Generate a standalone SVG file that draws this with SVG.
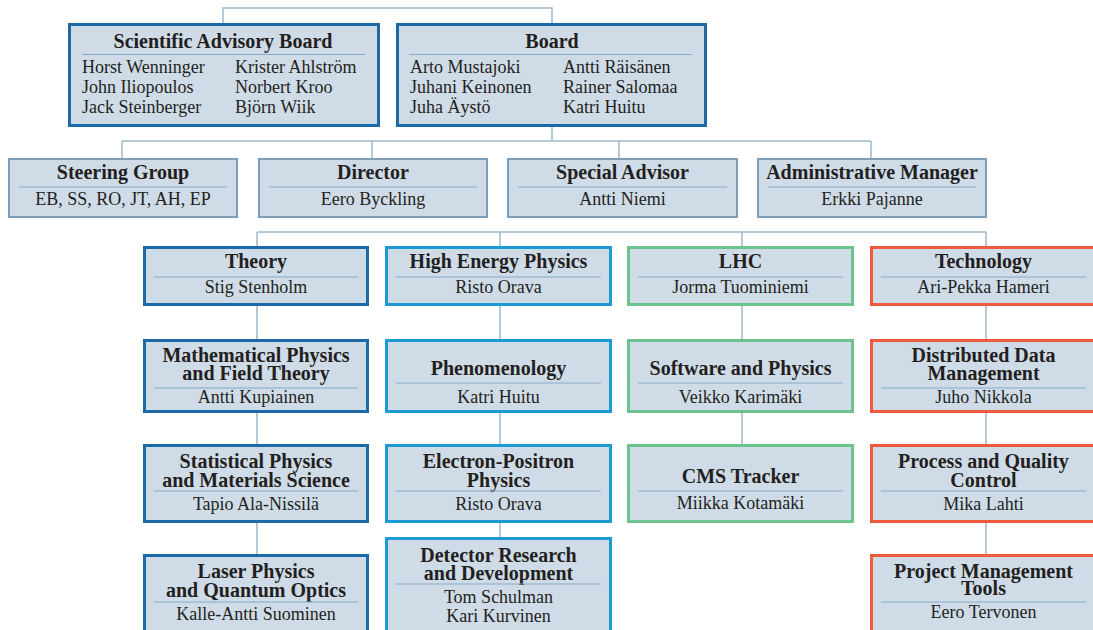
<svg xmlns="http://www.w3.org/2000/svg" width="1093" height="630" viewBox="0 0 1093 630">
<style>
.bg{fill:#ffffff}
.box{fill:#cfdce7}
.k1{stroke:#1c69a7;stroke-width:3}
.k2{stroke:#7d9dba;stroke-width:2}
.hep{stroke:#1c9ad6;stroke-width:3}
.lhc{stroke:#6cc38e;stroke-width:3}
.tec{stroke:#ef5a3c;stroke-width:3}
.sep{stroke:#86a9c5;stroke-width:1.2}
.t{font-family:"Liberation Serif",serif;font-weight:bold;font-size:20px;text-anchor:middle;fill:#231f20}
.n{font-family:"Liberation Serif",serif;font-size:18px;text-anchor:middle;fill:#231f20}
.l{text-anchor:start}
#connectors line,#connectors polyline{stroke:#9db8cd;stroke-width:1.5;fill:none}
</style>
<rect class="bg" x="0" y="0" width="1093" height="630"/>
<g id="connectors">
<polyline points="223,23 223,8 552,8 552,23"/>
<line x1="552" y1="127" x2="552" y2="141"/>
<line x1="122" y1="141" x2="871" y2="141"/>
<line x1="122" y1="141" x2="122" y2="158"/>
<line x1="372" y1="141" x2="372" y2="158"/>
<line x1="619" y1="141" x2="619" y2="158"/>
<line x1="871" y1="141" x2="871" y2="158"/>
<line x1="257" y1="232" x2="986" y2="232"/>
<line x1="257" y1="232" x2="257" y2="246"/>
<line x1="500" y1="232" x2="500" y2="246"/>
<line x1="742" y1="232" x2="742" y2="246"/>
<line x1="986" y1="232" x2="986" y2="246"/>
<line x1="257" y1="306" x2="257" y2="339"/>
<line x1="257" y1="413" x2="257" y2="444"/>
<line x1="257" y1="523" x2="257" y2="554"/>
<line x1="500" y1="306" x2="500" y2="339"/>
<line x1="500" y1="413" x2="500" y2="444"/>
<line x1="500" y1="523" x2="500" y2="537"/>
<line x1="742" y1="306" x2="742" y2="339"/>
<line x1="742" y1="413" x2="742" y2="444"/>
<line x1="986" y1="306" x2="986" y2="339"/>
<line x1="986" y1="413" x2="986" y2="444"/>
<line x1="986" y1="523" x2="986" y2="554"/>
</g>

<g id="scientific-advisory-board">
<rect class="box k1" x="69.5" y="24.5" width="309" height="101"/>
<text class="t" x="223" y="48">Scientific Advisory Board</text>
<line class="sep" x1="82" y1="54.5" x2="365" y2="54.5"/>
<text class="n l" x="82" y="73">Horst Wenninger</text>
<text class="n l" x="82" y="93">John Iliopoulos</text>
<text class="n l" x="82" y="113">Jack Steinberger</text>
<text class="n l" x="235" y="73">Krister Ahlström</text>
<text class="n l" x="235" y="93">Norbert Kroo</text>
<text class="n l" x="235" y="113">Björn Wiik</text>
</g>

<g id="board">
<rect class="box k1" x="397.5" y="24.5" width="308" height="101"/>
<text class="t" x="552" y="48">Board</text>
<line class="sep" x1="409" y1="54.5" x2="692" y2="54.5"/>
<text class="n l" x="410" y="73">Arto Mustajoki</text>
<text class="n l" x="410" y="93">Juhani Keinonen</text>
<text class="n l" x="410" y="113">Juha Äystö</text>
<text class="n l" x="563" y="73">Antti Räisänen</text>
<text class="n l" x="563" y="93">Rainer Salomaa</text>
<text class="n l" x="563" y="113">Katri Huitu</text>
</g>

<g id="steering-group">
<rect class="box k2" x="9" y="159" width="228" height="58"/>
<text class="t" x="123" y="179">Steering Group</text>
<line class="sep" x1="19" y1="187" x2="227" y2="187"/>
<text class="n" x="123" y="205">EB, SS, RO, JT, AH, EP</text>
</g>

<g id="director">
<rect class="box k2" x="259" y="159" width="228" height="58"/>
<text class="t" x="373" y="179">Director</text>
<line class="sep" x1="269" y1="187" x2="477" y2="187"/>
<text class="n" x="373" y="205">Eero Byckling</text>
</g>

<g id="special-advisor">
<rect class="box k2" x="508" y="159" width="229" height="58"/>
<text class="t" x="622.5" y="179">Special Advisor</text>
<line class="sep" x1="518" y1="187" x2="727" y2="187"/>
<text class="n" x="622.5" y="205">Antti Niemi</text>
</g>

<g id="administrative-manager">
<rect class="box k2" x="758" y="159" width="228" height="58"/>
<text class="t" x="872" y="179">Administrative Manager</text>
<line class="sep" x1="768" y1="187" x2="976" y2="187"/>
<text class="n" x="872" y="205">Erkki Pajanne</text>
</g>

<!-- Theory column -->
<g id="theory">
<rect class="box k1" x="144.5" y="247.5" width="223" height="57"/>
<text class="t" x="256" y="268">Theory</text>
<line class="sep" x1="154" y1="277" x2="358" y2="277"/>
<text class="n" x="256" y="293">Stig Stenholm</text>
</g>
<g id="mathematical-physics">
<rect class="box k1" x="144.5" y="340.5" width="223" height="71"/>
<text class="t" x="256" y="362">Mathematical Physics</text>
<text class="t" x="256" y="380">and Field Theory</text>
<line class="sep" x1="154" y1="388" x2="358" y2="388"/>
<text class="n" x="256" y="403">Antti Kupiainen</text>
</g>
<g id="statistical-physics">
<rect class="box k1" x="144.5" y="445.5" width="223" height="76"/>
<text class="t" x="256" y="468">Statistical Physics</text>
<text class="t" x="256" y="487">and Materials Science</text>
<line class="sep" x1="154" y1="491" x2="358" y2="491"/>
<text class="n" x="256" y="510">Tapio Ala-Nissilä</text>
</g>
<g id="laser-physics">
<rect class="box k1" x="144.5" y="555.5" width="223" height="90"/>
<text class="t" x="256" y="578">Laser Physics</text>
<text class="t" x="256" y="597">and Quantum Optics</text>
<line class="sep" x1="154" y1="602" x2="358" y2="602"/>
<text class="n" x="256" y="620">Kalle-Antti Suominen</text>
</g>

<!-- HEP column -->
<g id="high-energy-physics">
<rect class="box hep" x="386.5" y="247.5" width="224" height="57"/>
<text class="t" x="498.5" y="268">High Energy Physics</text>
<line class="sep" x1="396" y1="277" x2="601" y2="277"/>
<text class="n" x="498.5" y="293">Risto Orava</text>
</g>
<g id="phenomenology">
<rect class="box hep" x="386.5" y="340.5" width="224" height="71"/>
<text class="t" x="498.5" y="375">Phenomenology</text>
<line class="sep" x1="396" y1="383" x2="601" y2="383"/>
<text class="n" x="498.5" y="403">Katri Huitu</text>
</g>
<g id="electron-positron-physics">
<rect class="box hep" x="386.5" y="445.5" width="224" height="76"/>
<text class="t" x="498.5" y="468">Electron-Positron</text>
<text class="t" x="498.5" y="487">Physics</text>
<line class="sep" x1="396" y1="491" x2="601" y2="491"/>
<text class="n" x="498.5" y="510">Risto Orava</text>
</g>
<g id="detector-research">
<rect class="box hep" x="386.5" y="538.5" width="224" height="107"/>
<text class="t" x="498.5" y="562">Detector Research</text>
<text class="t" x="498.5" y="580">and Development</text>
<line class="sep" x1="396" y1="584" x2="601" y2="584"/>
<text class="n" x="498.5" y="603">Tom Schulman</text>
<text class="n" x="498.5" y="622">Kari Kurvinen</text>
</g>

<!-- LHC column -->
<g id="lhc">
<rect class="box lhc" x="628.5" y="247.5" width="224" height="57"/>
<text class="t" x="740.5" y="268">LHC</text>
<line class="sep" x1="638" y1="277" x2="843" y2="277"/>
<text class="n" x="740.5" y="293">Jorma Tuominiemi</text>
</g>
<g id="software-and-physics">
<rect class="box lhc" x="628.5" y="340.5" width="224" height="71"/>
<text class="t" x="740.5" y="375">Software and Physics</text>
<line class="sep" x1="638" y1="383" x2="843" y2="383"/>
<text class="n" x="740.5" y="403">Veikko Karimäki</text>
</g>
<g id="cms-tracker">
<rect class="box lhc" x="628.5" y="445.5" width="224" height="76"/>
<text class="t" x="740.5" y="483">CMS Tracker</text>
<line class="sep" x1="638" y1="491" x2="843" y2="491"/>
<text class="n" x="740.5" y="509">Miikka Kotamäki</text>
</g>

<!-- Technology column -->
<g id="technology">
<rect class="box tec" x="871.5" y="247.5" width="224" height="57"/>
<text class="t" x="983.5" y="268">Technology</text>
<line class="sep" x1="881" y1="277" x2="1086" y2="277"/>
<text class="n" x="983.5" y="293">Ari-Pekka Hameri</text>
</g>
<g id="distributed-data-management">
<rect class="box tec" x="871.5" y="340.5" width="224" height="71"/>
<text class="t" x="983.5" y="362">Distributed Data</text>
<text class="t" x="983.5" y="380">Management</text>
<line class="sep" x1="881" y1="388" x2="1086" y2="388"/>
<text class="n" x="983.5" y="403">Juho Nikkola</text>
</g>
<g id="process-and-quality-control">
<rect class="box tec" x="871.5" y="445.5" width="224" height="76"/>
<text class="t" x="983.5" y="468">Process and Quality</text>
<text class="t" x="983.5" y="487">Control</text>
<line class="sep" x1="881" y1="491" x2="1086" y2="491"/>
<text class="n" x="983.5" y="510">Mika Lahti</text>
</g>
<g id="project-management-tools">
<rect class="box tec" x="871.5" y="555.5" width="224" height="90"/>
<text class="t" x="983.5" y="578">Project Management</text>
<text class="t" x="983.5" y="595">Tools</text>
<line class="sep" x1="881" y1="602" x2="1086" y2="602"/>
<text class="n" x="983.5" y="618">Eero Tervonen</text>
</g>
</svg>
